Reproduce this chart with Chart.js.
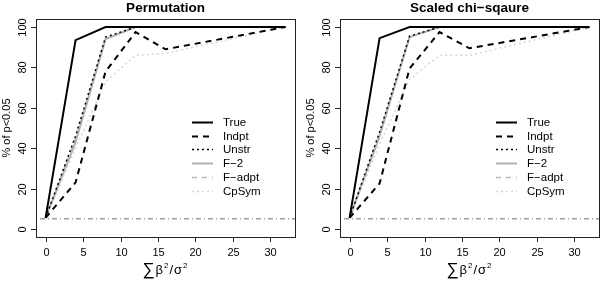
<!DOCTYPE html>
<html lang="en">
<head>
  <meta charset="UTF-8" />
  <title>Power comparison</title>
  <script src="https://cdn.jsdelivr.net/npm/chart.js"></script>
  <style>
    html, body { margin: 0; padding: 0; background: #fff; }
    #wrap { position: relative; width: 600px; height: 281px; overflow: hidden; }
    canvas { position: absolute; top: 0; }
  </style>
</head>
<body>
  <div id="wrap">
    <canvas id="permChart" width="300" height="281" style="left:0"></canvas>
    <canvas id="chiChart" width="300" height="281" style="left:304px"></canvas>
  </div>

  <script>
    // x positions: sum beta^2 / sigma^2
    const effectSizes = [0, 4, 8, 12, 16, 32];
    const xTicks = [0, 5, 10, 15, 20, 25, 30];
    const yTicks = [0, 20, 40, 60, 80, 100];
    const alphaLevel = 5;

    // Permutation panel (% of p<0.05)
    const permTrue  = [5.5, 93.5, 100, 100, 100, 100];
    const permIndpt = [5.5, 23, 78, 97.5, 89, 100];
    const permUnstr = [5.5, 46, 95, 100, 100, 100];
    const permF2    = [5.5, 43, 94, 100, 100, 100];
    const permFadpt = [5.5, 45, 94, 100, 100, 100];
    const permCpSym = [5.5, 40, 73, 86, 87, 100];

    // Scaled chi-square panel
    const chiTrue  = [5.5, 94.5, 100, 100, 100, 100];
    const chiIndpt = [5.5, 22.5, 79.5, 97.5, 89.5, 100];
    const chiUnstr = [5.5, 48, 95.5, 100, 100, 100];
    const chiF2    = [5.5, 46, 95, 100, 100, 100];
    const chiFadpt = [5.5, 47, 95, 100, 100, 100];
    const chiCpSym = [5.5, 42, 74, 86, 86, 100];

    const FONT = "'Liberation Sans', Arial, Helvetica, sans-serif";

    const styles = [
      { label: "True",   color: "#000000", width: 2,   dash: [] },
      { label: "Indpt",  color: "#000000", width: 2,   dash: [6, 5] },
      { label: "Unstr",  color: "#000000", width: 1.5, dash: [2, 3] },
      { label: "F\u22122",   color: "#b0b0b0", width: 2,   dash: [] },
      { label: "F\u2212adpt", color: "#bcbcbc", width: 1.5, dash: [5, 5] },
      { label: "CpSym",  color: "#d6d6d6", width: 1.5, dash: [2, 3] }
    ];

    const toPts = arr => arr.map((v, i) => ({ x: effectSizes[i], y: v }));

    const rPlotPlugin = {
      id: "rPlot",
      afterDraw(chart) {
        const { ctx, chartArea: a, scales: { x, y } } = chart;
        const title = chart.options.plugins.rPlot.title;
        ctx.save();
        // box
        ctx.strokeStyle = "#222";
        ctx.lineWidth = 1;
        ctx.setLineDash([]);
        ctx.strokeRect(Math.round(a.left) + 0.5, Math.round(a.top) + 0.5, Math.round(a.right - a.left), Math.round(a.bottom - a.top));

        ctx.fillStyle = "#000";
        ctx.font = `11px ${FONT}`;
        // x ticks
        ctx.textAlign = "center";
        ctx.textBaseline = "middle";
        xTicks.forEach(v => {
          const px = Math.round(x.getPixelForValue(v)) + 0.5;
          ctx.beginPath();
          ctx.moveTo(px, a.bottom);
          ctx.lineTo(px, a.bottom + 5);
          ctx.stroke();
          ctx.fillText(String(v), px, a.bottom + 16);
        });
        // y ticks
        yTicks.forEach(v => {
          const py = Math.round(y.getPixelForValue(v)) + 0.5;
          ctx.beginPath();
          ctx.moveTo(a.left, py);
          ctx.lineTo(a.left - 5, py);
          ctx.stroke();
          ctx.save();
          ctx.translate(a.left - 13, py);
          ctx.rotate(-Math.PI / 2);
          ctx.fillText(String(v), 0, 0);
          ctx.restore();
        });

        // y axis label
        ctx.save();
        ctx.translate(a.left - 29, (a.top + a.bottom) / 2);
        ctx.rotate(-Math.PI / 2);
        ctx.fillText("% of p<0.05", 0, 0);
        ctx.restore();

        // x axis label: sum beta^2 / sigma^2
        const cx = (a.left + a.right) / 2;
        const by = a.bottom + 33;
        const parts = [
          { t: "\u2211", f: `17px ${FONT}`, dy: 1 },
          { t: "\u03b2", f: `13px ${FONT}`, dy: 0 },
          { t: "2", f: `8px ${FONT}`, dy: -6 },
          { t: "/", f: `13px ${FONT}`, dy: 0 },
          { t: "\u03c3", f: `13px ${FONT}`, dy: 0 },
          { t: "2", f: `8px ${FONT}`, dy: -6 }
        ];
        let total = 0;
        parts.forEach(p => { ctx.font = p.f; p.w = ctx.measureText(p.t).width; total += p.w + 1; });
        let px = cx - total / 2;
        ctx.textAlign = "left";
        ctx.textBaseline = "alphabetic";
        parts.forEach(p => {
          ctx.font = p.f;
          ctx.fillText(p.t, px, by + 4 + p.dy);
          px += p.w + 1;
        });

        // title
        ctx.font = `bold 13.5px ${FONT}`;
        ctx.textAlign = "center";
        ctx.textBaseline = "middle";
        ctx.fillText(title, cx, 8);

        // legend
        const ds = chart.data.datasets.filter(d => !d.noLegend);
        ctx.font = `11.5px ${FONT}`;
        ctx.textAlign = "left";
        ds.forEach((d, i) => {
          const ly = Math.round(a.top + 103 + i * 13.7) + 0.5;
          ctx.strokeStyle = d.borderColor;
          ctx.lineWidth = d.borderWidth;
          ctx.setLineDash(d.borderDash || []);
          ctx.beginPath();
          ctx.moveTo(a.right - 103, ly);
          ctx.lineTo(a.right - 82, ly);
          ctx.stroke();
          ctx.fillStyle = "#000";
          ctx.fillText(d.label, a.right - 72, ly);
        });
        ctx.restore();
      }
    };

    function makeChart(id, title, series) {
      const datasets = series.map((vals, i) => ({
        label: styles[i].label,
        data: toPts(vals),
        borderColor: styles[i].color,
        borderWidth: styles[i].width,
        borderDash: styles[i].dash,
        pointRadius: 0,
        tension: 0,
        fill: false
      }));
      datasets.push({
        label: "alpha",
        noLegend: true,
        data: [{ x: -1.28, y: alphaLevel }, { x: 33.28, y: alphaLevel }],
        borderColor: "#6e6e6e",
        borderWidth: 1,
        borderDash: [1, 3, 5, 3],
        pointRadius: 0,
        order: 10
      });
      return new Chart(document.getElementById(id), {
        type: "line",
        data: { datasets },
        options: {
          responsive: false,
          animation: false,
          layout: { padding: { left: 36, right: 5, top: 19, bottom: 44 } },
          scales: {
            x: { type: "linear", min: -1.28, max: 33.28, display: false },
            y: { type: "linear", min: -4, max: 104, display: false }
          },
          plugins: {
            legend: { display: false },
            tooltip: { enabled: false },
            rPlot: { title }
          }
        },
        plugins: [rPlotPlugin]
      });
    }

    makeChart("permChart", "Permutation", [permTrue, permIndpt, permUnstr, permF2, permFadpt, permCpSym]);
    makeChart("chiChart", "Scaled chi\u2212sqaure", [chiTrue, chiIndpt, chiUnstr, chiF2, chiFadpt, chiCpSym]);
  </script>
</body>
</html>
